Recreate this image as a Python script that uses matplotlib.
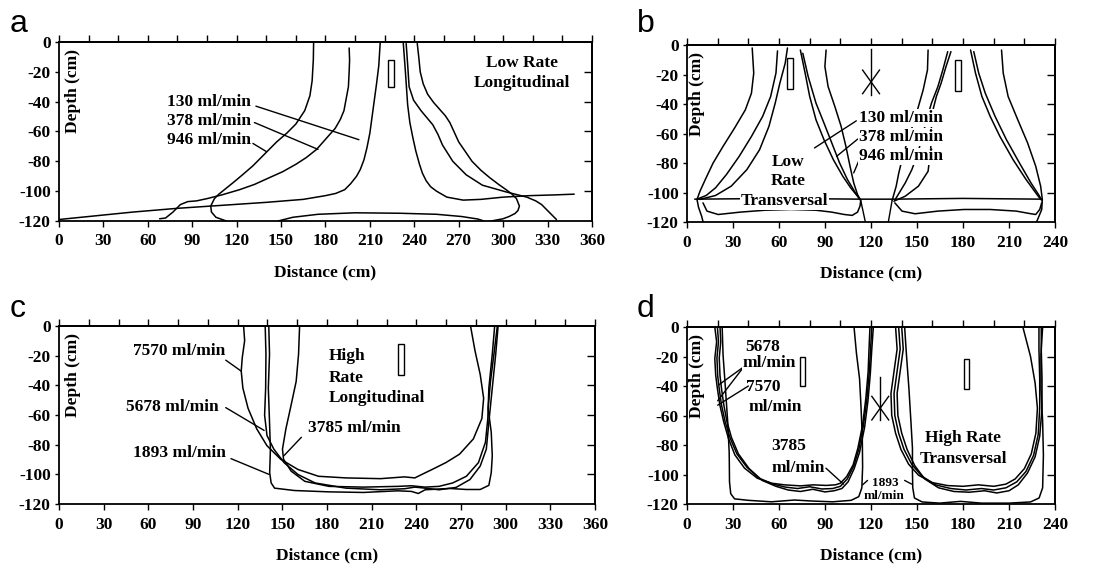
import matplotlib
matplotlib.use("Agg")
import matplotlib.pyplot as plt
from matplotlib.patches import Rectangle

plt.rcParams['font.family'] = ['Liberation Serif', 'DejaVu Serif']
plt.rcParams['font.weight'] = 'bold'
plt.rcParams['axes.linewidth'] = 1.3

# ---------------- panel a : low rate, longitudinal ----------------
a_130_left = [(217,0),(216.5,-8),(216,-16),(214.5,-28),(213,-39),(211.5,-50),(210,-61),(208,-71),(206,-79),(203.5,-85.5),
              (201,-90),(197,-95),(193,-99),(187,-101.5),(180,-103),(165,-105.5),(140,-107.5),(110,-109.5),(80,-111.5),
              (50,-114),(25,-116.5),(0,-119)]
a_130_right = [(232.5,0),(234,-20),(235.5,-42),(237,-54),(239,-64),(241,-73),(243.5,-82),(245.5,-88),(248,-93),(251,-97),
               (255,-100),(262,-104),(273,-106),(285,-105.5),(300,-104),(318,-103),(335,-102.5),(348,-102)]
a_378_left = [(196,-4),(196.3,-12),(196,-20),(195.5,-30),(194,-38),(192.5,-46),(190,-52),(186.5,-58),(182,-63),(174,-72),
              (167,-77.5),(160,-82),(151,-87),(142,-91),(132,-95.5),(122,-99),(110,-102.5),(100,-105),(93,-106.5),
              (87,-107),(82,-109),(77,-114),(72,-118),(68,-118.5)]
a_378_right = [(234.5,-1),(235.5,-15),(236.5,-30),(239.5,-39),(244.5,-46),(252.5,-55.5),(256,-62),(259,-69),(266,-80),
               (275,-89),(286,-96),(302,-100.5),(316,-104),(322,-106.5),(326,-109),(332,-115),(336,-119)]
a_946_left = [(172,0),(171.8,-12),(171,-26),(169.5,-36),(166,-46),(160,-55),(154,-61),(147,-67),(138,-76),(131,-83),
              (124,-89),(118,-94),(113,-98),(108,-102),(105,-105),(102.5,-110),(103,-114),(106,-117.5),(113,-120)]
a_946_right = [(242,-1),(243,-10),(244,-20),(246,-28),(249,-35),(253,-40.5),(257,-45),(261,-49.5),(264,-54),(270,-67),
               (279,-80),(285,-86),(291,-91),(297,-95.5),(302,-99),(306,-102),(309,-105),(311,-110),(310,-113),
               (308,-115),(304,-117),(300,-118.5),(292,-120)]
a_946_bottom = [(148,-120),(158,-117.5),(175,-115.5),(200,-114.5),(230,-114.8),(255,-115.5),(272,-117),(283,-118.7),(287,-120)]
a_pointers = [[(133,-43),(202.6,-65.5)], [(132,-54),(175,-72)], [(131,-68),(140,-73.4)]]
a_labels = ["130 ml/min", "378 ml/min", "946 ml/min"]
a_label_y = [-40, -53, -65.5]

# ---------------- panel b : low rate, transversal ----------------
b_l_946_out = [(42.5,-2),(43.5,-19),(42,-32.7),(38,-44),(31,-56.3),(23.5,-68.7),(17,-80),(12,-91),(8.5,-99),
               (6.5,-104.7),(7.5,-110),(9.5,-116),(10.5,-120)]
b_l_378_out = [(59,-4),(58,-19),(54.5,-35),(49.3,-48.4),(42,-62),(34,-75.5),(25.7,-87.8),(18.6,-96.8),(12.5,-102),(6.5,-104.5)]
b_l_130_out = [(65.5,-2),(64,-12.4),(60.5,-26),(57.5,-39.4),(53.4,-55.2),(47.3,-71),(39,-84.5),(28.8,-95.7),(18.6,-102),(8.3,-104.7)]
b_l_130_in = [(73.9,-3.4),(77,-19),(80,-34.9),(84.1,-50.7),(89.3,-64.2),(95.4,-77.7),(101.6,-89),(106.7,-96.8),(110.8,-102),(112.8,-104.7)]
b_l_378_in = [(75.5,-5.6),(79,-21.4),(84.1,-39.4),(89.3,-52.9),(94.4,-66.4),(99.5,-80),(104.6,-91.2),(109.8,-100.2),(113.2,-105.2)]
b_l_946_in = [(90.7,-3.4),(89.9,-14.6),(92,-28.2),(96.4,-41.7),(100.5,-55.2),(103.6,-68.7),(106.3,-82.2),(108.7,-93.5),(111.2,-101.4),(113.2,-105.2)]
b_l_bottom = [(10.4,-107),(13,-112.6),(20.3,-114.9),(34.6,-113.3),(51,-112),(67.7,-111.5),(84.1,-112),(94.4,-113.3),
              (102.6,-114.9),(107.7,-115.5),(111.2,-113.3),(112.8,-109.2),(113.2,-105.9)]
b_r_946_in = [(157.2,-3.4),(156.8,-16.9),(154,-30.4),(150.9,-41.7),(147.7,-52.9),(143.4,-66.4),(140.2,-77.7),(138.1,-86.7),(136.4,-95.7),(133.8,-105.2)]
b_r_378_in = [(170,-4.5),(166.8,-16.9),(163.6,-28.2),(159.4,-39.4),(156.2,-50.7),(153,-64.2),(149.8,-75.5),(146.6,-84.5),(142.3,-93.5),(135.5,-105.2)]
b_r_130_in = [(172.1,-4.5),(168.9,-14.6),(165.7,-25.9),(162.6,-34.9),(160.4,-43.9),(159.4,-55.2),(158.9,-71),(157.2,-85.6),(150.9,-95.7),(142.3,-102.5),(134.9,-105.9)]
b_r_130_out = [(184.9,-3.4),(188.1,-19),(192.3,-34.9),(197.7,-48.4),(204,-61.9),(212.6,-77.7),(221.1,-91.2),(227.4,-100.2),(230.6,-104.7)]
b_r_378_out = [(187,-4.5),(190.2,-19),(194.5,-32.7),(200.9,-48.4),(208.3,-64.2),(216.8,-80),(224.3,-93.5),(229.6,-102),(231.3,-105.2)]
b_r_946_out = [(205.1,-3.4),(206.2,-19),(209.4,-34.9),(215.7,-50.7),(222.1,-66.4),(227.4,-82.2),(230.6,-95.7),(231.7,-104.7),
               (231.3,-111.5),(229.1,-117.1),(227.9,-120)]
b_r_bottom = [(135.5,-107),(140.2,-112.6),(148.7,-114.4),(163.6,-112.6),(180.6,-111.5),(197.7,-111.5),(214.7,-112.6),
              (223.2,-114.2),(227.4,-114.9),(230,-111.5),(231.3,-107)]
b_floor = [(5,-104.5),(60,-104),(113,-104.5),(134,-104.5),(180,-104),(231.5,-104.5)]
b_trap = [[(113.2,-105),(116.5,-121)], [(133.8,-105),(131.1,-121)]]
b_pointers = [[(110.4,-51.4),(83.1,-69.8)], [(111.4,-63.7),(97.5,-75.5)], [(112.8,-76.6),(108.7,-86.7)]]
b_labels = ["130 ml/min", "378 ml/min", "946 ml/min"]
b_label_y = [-49.5, -62.4, -75.5]

# ---------------- panel c : high rate, longitudinal ----------------
c_7570 = [(124,0),(124.7,-9.8),(123.1,-21.3),(122.4,-30.4),(123.5,-41.8),(127,-55.5),(132.8,-69.3),(139.7,-80.7),(148.9,-89.8),
          (160.5,-96.7),(174.3,-101.3),(192.8,-102.4),(215.9,-102.9),(232.1,-101.7),(239,-102.4),(243.6,-100.1),(250.6,-96.7),
          (259.8,-92.1),(269,-86.4),(278.3,-76.1),(284,-62.4),(285.2,-48.7),(282.9,-32.7),(279.4,-16.7),(276.4,0)]
c_3785 = [(161.6,0),(160.9,-19),(159.3,-37.3),(155.9,-53.3),(152.4,-69.3),(150.1,-83),(150.8,-89.8),(155.9,-97.8),(165.1,-104.7),
          (181.3,-108.1),(204.4,-108.6),(227.5,-108.1),(236.7,-107.7),(245.9,-108.6),(255.2,-108.1),(264.4,-105.8),(273.6,-101.3),
          (281.7,-92.1),(286.4,-78.4),(288,-62.4),(288.7,-41.8),(291,-19),(292.6,0)]
c_5678 = [(138.5,0),(139,-19),(138.8,-41.8),(138.1,-60.1),(139.7,-73.8),(144.3,-83),(151.2,-92.1),(160.5,-100.1),(172,-105.8),
          (192.8,-109.3),(215.9,-110.4),(232.1,-109.7),(239,-108.6),(245.9,-109.3),(255.2,-110.4),(266.7,-108.8),(276,-103.5),
          (282.9,-94.4),(287,-83),(288.7,-64.7),(291,-41.8),(293.3,-19),(294.9,0)]
c_1893 = [(140.9,0),(141.4,-19),(140.6,-41.8),(141.4,-64.7),(142,-83),(141.5,-98.9),(142.5,-105.8),(144.8,-109.3),(158.2,-110.9),
          (181.3,-111.8),(204.4,-112.2),(227.5,-111.1),(236.7,-111.5),(241.3,-112.9),(245.9,-110.4),(262.1,-109.5),(273.6,-110.2),
          (282.9,-110.2),(288.7,-107.4),(290.3,-98.9),(291,-87.5),(290.3,-71.5),(288.2,-55.5),(289.8,-37.3),(292.1,-19),(294.4,0)]
c_pointers = [[(112,-23),(122.4,-30.4)], [(112,-55),(137.8,-70.4)], [(162.8,-75),(151,-87.5)], [(115.5,-89.4),(141,-100)]]

# ---------------- panel d : high rate, transversal ----------------
d_l_1893 = [(22.9,0),(23.5,-19),(25,-41),(26.5,-64),(27.5,-85),(27.7,-105),(28.5,-113),(31,-116.5),(40,-117.5),(55,-118.5),
            (70,-117.3),(82,-118),(95,-118.5),(107,-117.5),(112,-115),(114,-109),(114.5,-95),(114.3,-75),(113.5,-55),
            (112.5,-35),(110.5,-18),(108.9,0)]
d_l_7570 = [(18.1,0),(19.3,-10),(18.1,-21.4),(18.7,-32.7),(19.8,-41.7),(21.4,-52.9),(23.9,-64.2),(27,-75.5),(31.2,-86.7),
            (37.5,-95.7),(45.8,-102.5),(55.2,-105.9),(63.5,-107),(73.9,-107.7),(82.3,-107),(90.6,-107.4),(96.8,-107),
            (100,-105.9),(104.1,-101.4),(108.3,-93.5),(111.4,-82.2),(114.5,-66.4),(116.6,-48.4),(118.1,-30.4),(118.7,-14.6),(119.3,0)]
d_l_5678 = [(19.8,0),(20.5,-10),(19.5,-21),(20,-33),(21,-42),(22.5,-53),(24.8,-64),(28,-75),(32.5,-86),(39,-95),(47,-102.5),
            (56,-106.5),(64,-108.5),(72,-109.5),(80,-108.3),(88,-109.8),(95,-109.5),(100,-108),(104.5,-103),(108.8,-94),
            (112,-83),(115,-67),(117.3,-49),(118.8,-31),(119.7,-15),(120.5,0)]
d_l_3785 = [(21.5,0),(22,-10),(21,-21),(21.5,-33),(22.5,-42),(24,-53),(26,-64),(29,-75),(33.5,-86),(40.5,-96),(49,-104),
            (58,-108),(66,-110.5),(74,-111.5),(82,-110),(90,-111.8),(96,-111),(101,-109.5),(105,-105),(109,-96),(112.5,-85),
            (115.8,-68),(118,-50),(119.5,-32),(120.5,-15),(121.5,0)]
d_r_1893 = [(141.9,0),(143.1,-19),(144.7,-41.7),(146,-64),(147,-82),(147,-98),(147.2,-109),(148.3,-115.9),(153.3,-118.6),
            (164.7,-119.4),(178.4,-118.2),(192,-119.4),(210,-119.4),(224,-118.6),(229.6,-115.9),(231.9,-109),(232.4,-87),
            (231.9,-64),(230.8,-42),(230.8,-19),(231.9,0)]
d_r_7570 = [(136,0),(137,-15),(135,-30),(133,-45),(133.5,-60),(136,-72),(139.5,-83),(144.5,-93),(151,-100.5),(160,-105.5),
            (170,-107.5),(180,-108),(190,-107),(200,-108),(208,-106.5),(214,-103),(220,-96),(224.5,-86),(227.5,-72),
            (228.5,-55),(227,-38),(224,-20),(219,0)]
d_r_5678 = [(138,0),(139,-15),(137,-30),(135,-45),(135.5,-60),(138,-72),(141.5,-83),(146.5,-93),(153,-101),(162,-107),
            (172,-109.5),(182,-110.5),(192,-109.5),(200,-110.5),(208,-109),(215,-105),(221,-98),(226,-87),(229,-73),
            (230,-55),(230,-35),(229.5,-15),(229.5,0)]
d_r_3785 = [(140,0),(141,-15),(139,-30),(137,-45),(137.5,-60),(140,-72),(143.5,-83),(148.5,-94),(155,-103),(164,-109),
            (174,-111.5),(184,-112),(194,-111),(202,-112.5),(210,-111),(216,-107),(222,-99),(227,-88),(230,-74),
            (231.5,-55),(231.5,-35),(231,-15),(231,0)]
d_pointers = [[(37,-27),(21,-39)], [(37,-27),(20,-50)], [(40,-40),(20,-53)], [(90.6,-95.7),(102,-106.5)],
              [(117.7,-104),(114.5,-107)], [(141.9,-104),(146.5,-106.5)]]

yticks = [0, -20, -40, -60, -80, -100, -120]


def frame(ax, xmax, rect):
    ax.set_position(rect)
    ax.set_xlim(0, xmax)
    ax.set_ylim(-120, 0)
    ax.set_xticks(range(0, xmax + 1, 30))
    ax.set_xticklabels([str(v) for v in range(0, xmax + 1, 30)], fontsize=12.5, fontweight='bold')
    ax.set_yticks(yticks)
    ax.set_yticklabels([str(v) for v in yticks], fontsize=12.5, fontweight='bold')
    ax.tick_params(axis='x', direction='out', length=4, width=1, pad=5)
    ax.tick_params(axis='y', direction='out', length=3, width=1, pad=3)
    top = ax.secondary_xaxis('top')
    top.set_xticks(range(0, xmax + 1, 20))
    top.set_xticklabels([])
    top.tick_params(direction='out', length=5, width=1)
    right = ax.secondary_yaxis('right')
    right.set_yticks(yticks[1:-1])
    right.set_yticklabels([])
    right.tick_params(direction='in', length=6, width=1)
    ax.set_xlabel("Distance (cm)", fontsize=12.5, fontweight='bold', labelpad=11)
    ax.text(xmax * 0.026, -33, "Depth (cm)", rotation=90, ha='center', va='center', fontsize=12.5)


def curve(ax, pts, lw=1.1):
    xs = [p[0] for p in pts]
    ys = [p[1] for p in pts]
    ax.plot(xs, ys, color='black', lw=lw, solid_capstyle='round', solid_joinstyle='round')


def box(ax, x0, x1, y0, y1):
    ax.add_patch(Rectangle((x0, y0), x1 - x0, y1 - y0, fill=False, lw=1.0, ec='black'))


def arrow(ax, x, ytop, ybot, yc):
    ax.plot([x, x], [ytop, ybot], color='black', lw=1.0)
    ax.plot([x - 5.5, x + 5.5], [yc + 9, yc - 7], color='black', lw=1.0)
    ax.plot([x + 5.5, x - 5.5], [yc + 9, yc - 7], color='black', lw=1.0)


fig = plt.figure(figsize=(10.94, 5.69), dpi=100)
wb = dict(facecolor='white', edgecolor='none', pad=0.6)

# panel a
ax = fig.add_axes([0, 0, 1, 1])
frame(ax, 360, [0.0539, 0.6116, 0.4872, 0.3146])
for pts in [a_130_left, a_130_right, a_378_left, a_378_right, a_946_left, a_946_right, a_946_bottom]:
    curve(ax, pts)
for pts in a_pointers:
    curve(ax, pts, lw=1.0)
for lab, yy in zip(a_labels, a_label_y):
    ax.text(73, yy, lab, ha='left', va='center', fontsize=12.5)
ax.text(313, -14, "Low Rate", ha='center', va='center', fontsize=12.5)
ax.text(313, -27.5, "Longitudinal", ha='center', va='center', fontsize=12.5)
box(ax, 222, 226.5, -30, -12)

# panel b
ax = fig.add_axes([0, 0, 1, 1])
frame(ax, 240, [0.628, 0.6098, 0.3364, 0.3111])
for pts in [b_l_946_out, b_l_378_out, b_l_130_out, b_l_130_in, b_l_378_in, b_l_946_in, b_l_bottom,
            b_r_946_in, b_r_378_in, b_r_130_in, b_r_130_out, b_r_378_out, b_r_946_out, b_r_bottom, b_floor]:
    curve(ax, pts)
for pts in b_trap + b_pointers:
    curve(ax, pts, lw=1.0)
for lab, yy in zip(b_labels, b_label_y):
    ax.text(112, yy, lab, ha='left', va='center', fontsize=12.5, bbox=wb)
ax.text(65.7, -79.5, "Low", ha='center', va='center', fontsize=12.5, bbox=wb)
ax.text(65.7, -92.3, "Rate", ha='center', va='center', fontsize=12.5, bbox=wb)
ax.text(63.6, -106, "Transversal", ha='center', va='center', fontsize=12.5, bbox=wb)
box(ax, 65.5, 69, -30, -9)
box(ax, 175, 178.5, -31, -10.5)
arrow(ax, 120, -3, -34, -26)

# panel c
ax = fig.add_axes([0, 0, 1, 1])
frame(ax, 360, [0.0539, 0.1142, 0.49, 0.3128])
for pts in [c_7570, c_3785, c_5678, c_1893]:
    curve(ax, pts)
for pts in c_pointers:
    curve(ax, pts, lw=1.0)
ax.text(112, -16.7, "7570 ml/min", ha='right', va='center', fontsize=12.5)
ax.text(107.4, -54.4, "5678 ml/min", ha='right', va='center', fontsize=12.5)
ax.text(167.4, -68.8, "3785 ml/min", ha='left', va='center', fontsize=12.5)
ax.text(112, -85.3, "1893 ml/min", ha='right', va='center', fontsize=12.5)
ax.text(181.3, -20, "High", ha='left', va='center', fontsize=12.5)
ax.text(181.3, -35, "Rate", ha='left', va='center', fontsize=12.5)
ax.text(181.3, -48.3, "Longitudinal", ha='left', va='center', fontsize=12.5)
box(ax, 227.5, 231.4, -33, -12)

# panel d
ax = fig.add_axes([0, 0, 1, 1])
frame(ax, 240, [0.628, 0.1142, 0.3364, 0.3111])
for pts in [d_l_1893, d_l_7570, d_l_5678, d_l_3785, d_r_1893, d_r_7570, d_r_5678, d_r_3785]:
    curve(ax, pts)
for pts in d_pointers:
    curve(ax, pts, lw=1.0)
ax.text(49.5, -13.5, "5678", ha='center', va='center', fontsize=12.5)
ax.text(53.5, -24.5, "ml/min", ha='center', va='center', fontsize=12.5, bbox=wb)
ax.text(50, -40.5, "7570", ha='center', va='center', fontsize=12.5)
ax.text(57.5, -54.5, "ml/min", ha='center', va='center', fontsize=12.5)
ax.text(66.5, -81, "3785", ha='center', va='center', fontsize=12.5)
ax.text(72.5, -95.5, "ml/min", ha='center', va='center', fontsize=12.5)
ax.text(129.5, -105.5, "1893", ha='center', va='center', fontsize=9.5, bbox=wb)
ax.text(128.5, -114.5, "ml/min", ha='center', va='center', fontsize=9.5, bbox=wb)
ax.text(180, -75.5, "High Rate", ha='center', va='center', fontsize=12.5, bbox=wb)
ax.text(180, -89.2, "Transversal", ha='center', va='center', fontsize=12.5, bbox=wb)
box(ax, 73.8, 77.2, -40, -20)
box(ax, 180.5, 184, -41.7, -21.4)
arrow(ax, 126, -34, -63, -56)

for lab, x, y in [("a", 10, 537), ("b", 637, 537), ("c", 10, 252), ("d", 637, 252)]:
    fig.text(x / 1094, y / 569, lab, fontsize=23, fontweight='normal', family='Liberation Sans',
             ha='left', va='baseline')

fig.savefig("out.png", dpi=100, facecolor='white')
